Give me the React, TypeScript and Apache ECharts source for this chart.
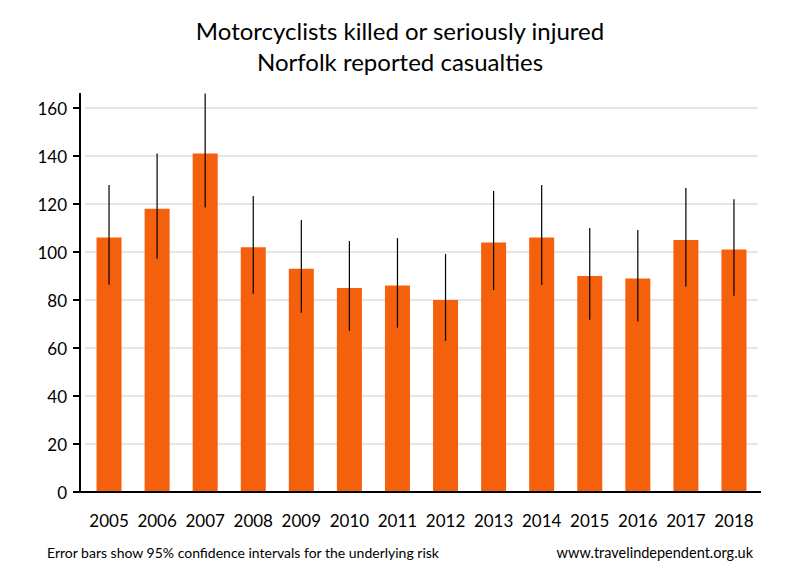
import React, { useEffect, useRef } from "react";
import * as echarts from "echarts";

const years = ["2005", "2006", "2007", "2008", "2009", "2010", "2011", "2012", "2013", "2014", "2015", "2016", "2017", "2018"];
const casualties = [106, 118, 141, 102, 93, 85, 86, 80, 104, 106, 90, 89, 105, 101];
const lowerCI = [86.4, 97.2, 118.5, 82.6, 74.7, 67.2, 68.5, 63, 84.2, 86.3, 71.8, 71, 85.6, 81.8];
const upperCI = [127.9, 141, 166, 123.3, 113.3, 104.6, 105.8, 99.2, 125.4, 127.9, 110, 109.2, 126.7, 122];
const yTicks = [0, 20, 40, 60, 80, 100, 120, 140, 160];

const FONT = "Lato, 'Open Sans', sans-serif";

export default function App() {
  const ref = useRef<HTMLDivElement>(null);
  useEffect(() => {
    if (!ref.current) return;
    const chart = echarts.init(ref.current, null, { renderer: "svg" });
    const errData = years.map((_, i) => [i, lowerCI[i], upperCI[i]]);
    chart.setOption({
      animation: false,
      backgroundColor: "#ffffff",
      textStyle: { fontFamily: FONT },
      title: {
        text: "Motorcyclists killed or seriously injured\nNorfolk reported casualties",
        left: "center",
        top: 10,
        textStyle: { fontFamily: FONT, fontSize: 24, fontWeight: "normal", color: "#000", lineHeight: 31 },
      },
      grid: { left: 85, right: 42, top: 108, bottom: 88 },
      xAxis: {
        type: "category",
        data: years,
        axisLine: { show: false },
        axisTick: { show: false },
        axisLabel: { color: "#000", fontSize: 17, fontFamily: FONT, margin: 20, interval: 0 },
      },
      yAxis: {
        type: "value",
        min: yTicks[0],
        max: yTicks[yTicks.length - 1],
        interval: 20,
        offset: 5,
        axisLine: { show: false },
        axisTick: { show: true, length: 7, lineStyle: { color: "#000", width: 2 } },
        axisLabel: { color: "#000", fontSize: 17, fontFamily: FONT, margin: 13 },
        splitLine: { show: true, lineStyle: { color: "#E6E6E6", width: 2 } },
      },
      graphic: [
        { type: "line", shape: { x1: 80, y1: 93, x2: 80, y2: 493 }, style: { stroke: "#000", lineWidth: 2 }, z: 100 },
        { type: "line", shape: { x1: 79, y1: 492, x2: 761, y2: 492 }, style: { stroke: "#000", lineWidth: 2 }, z: 100 },
        {
          type: "text",
          left: 47,
          top: 545,
          style: { text: "Error bars show 95% confidence intervals for the underlying risk", fontFamily: FONT, fontSize: 14, fill: "#000" },
        },
        {
          type: "text",
          right: 47,
          top: 545,
          style: { text: "www.travelindependent.org.uk", fontFamily: FONT, fontSize: 14.5, fill: "#000" },
        },
      ],
      series: [
        {
          type: "bar",
          data: casualties,
          barWidth: 25,
          itemStyle: { color: "#F5600D" },
        },
        {
          type: "custom",
          data: errData,
          clip: false,
          z: 10,
          renderItem: (params: any, api: any) => {
            const i = api.value(0);
            const lo = api.coord([i, api.value(1)]);
            const hi = api.coord([i, api.value(2)]);
            return {
              type: "line",
              shape: { x1: lo[0], y1: lo[1], x2: hi[0], y2: hi[1] },
              style: { stroke: "#000", lineWidth: 1.2 },
            };
          },
        },
      ],
    });
    return () => chart.dispose();
  }, []);
  return <div ref={ref} style={{ width: 800, height: 580, position: "absolute", left: 0, top: 0 }} />;
}
